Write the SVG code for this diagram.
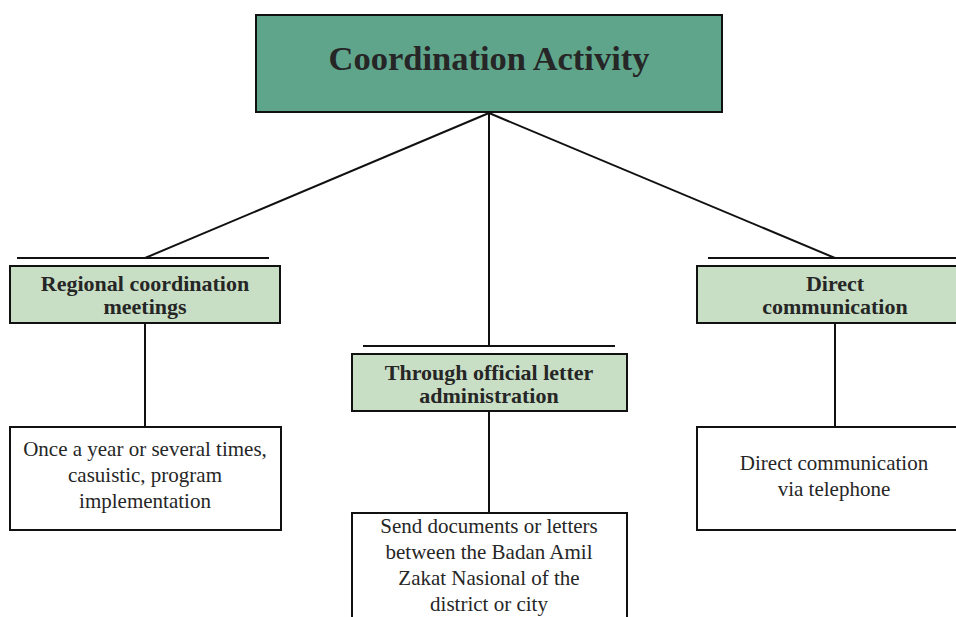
<svg xmlns="http://www.w3.org/2000/svg" width="956" height="617" viewBox="0 0 956 617">
<style>
.t{font-family:"Liberation Serif","DejaVu Serif",serif;fill:#262626;text-anchor:middle}
.b{font-weight:bold;font-size:22px}
.r{font-size:21px}
.box{stroke:#111;stroke-width:2}
.ln{stroke:#111;stroke-width:2;fill:none}
</style>
<rect width="956" height="617" fill="#fff"/>
<g id="connectors">
<line class="ln" x1="489" y1="113" x2="145" y2="258"/>
<line class="ln" x1="489" y1="113" x2="489" y2="346"/>
<line class="ln" x1="489" y1="113" x2="835" y2="258"/>
<line class="ln" x1="17" y1="258" x2="269" y2="258"/>
<line class="ln" x1="363" y1="346" x2="615" y2="346"/>
<line class="ln" x1="708" y1="258" x2="956" y2="258"/>
<line class="ln" x1="145" y1="323" x2="145" y2="427"/>
<line class="ln" x1="489" y1="411" x2="489" y2="513"/>
<line class="ln" x1="835" y1="323" x2="835" y2="427"/>
</g>
<g id="root">
<rect class="box" x="256" y="15" width="466" height="97" fill="#5fa58b"/>
<text class="t" x="489" y="70" font-size="34.5" font-weight="bold">Coordination Activity</text>
</g>
<g id="regional">
<rect class="box" x="10" y="266" width="270" height="57" fill="#c8dfc5"/>
<text class="t b" x="145" y="291">Regional coordination</text>
<text class="t b" x="145" y="314">meetings</text>
</g>
<g id="letter">
<rect class="box" x="352" y="354" width="275" height="57" fill="#c8dfc5"/>
<text class="t b" x="489" y="380">Through official letter</text>
<text class="t b" x="489" y="403">administration</text>
</g>
<g id="direct">
<rect class="box" x="697" y="266" width="270" height="57" fill="#c8dfc5"/>
<text class="t b" x="835" y="291">Direct</text>
<text class="t b" x="835" y="314">communication</text>
</g>
<g id="regional-detail">
<rect class="box" x="10" y="427" width="271" height="103" fill="#fff"/>
<text class="t r" x="145" y="456">Once a year or several times,</text>
<text class="t r" x="145" y="482">casuistic, program</text>
<text class="t r" x="145" y="508">implementation</text>
</g>
<g id="letter-detail">
<rect class="box" x="352" y="513" width="275" height="115" fill="#fff"/>
<text class="t r" x="489" y="533">Send documents or letters</text>
<text class="t r" x="489" y="559">between the Badan Amil</text>
<text class="t r" x="489" y="585">Zakat Nasional of the</text>
<text class="t r" x="489" y="611">district or city</text>
</g>
<g id="direct-detail">
<rect class="box" x="697" y="427" width="270" height="103" fill="#fff"/>
<text class="t r" x="834" y="470">Direct communication</text>
<text class="t r" x="834" y="496">via telephone</text>
</g>
</svg>
